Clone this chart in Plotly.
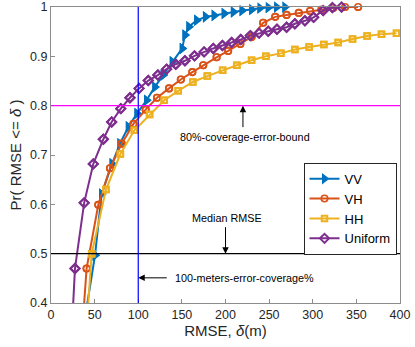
import plotly.graph_objects as go

# RMSE (m) / cumulative probability
vv_x = [38, 50.5, 58, 70, 79, 88.6, 98.5, 109.5, 119, 128.6, 139, 150.4, 153.5, 158, 167, 177, 187,
        198.5, 209, 219, 230, 239.5, 249, 258.5, 268]
vv_y = [0.36, 0.497, 0.621, 0.682, 0.723, 0.757, 0.784, 0.811, 0.838, 0.862, 0.889, 0.916, 0.943,
        0.960, 0.973, 0.980, 0.983, 0.987, 0.990, 0.993, 0.995, 0.998, 0.999, 1.0, 1.0]

vh_x = [36, 40.8, 54.2, 67.6, 81, 94.5, 108.5, 121.5, 135.3, 148.8, 162, 174.5, 189.8, 203, 217,
        229.9, 243.2, 257, 270, 284, 297, 310, 323.4, 337, 352]
vh_y = [0.35, 0.47, 0.599, 0.673, 0.723, 0.763, 0.792, 0.816, 0.835, 0.853, 0.868, 0.882, 0.898,
        0.911, 0.925, 0.939, 0.968, 0.980, 0.984, 0.988, 0.992, 0.995, 0.998, 1.0, 1.0]

hh_x = [38.5, 46.6, 63, 79.5, 95.6, 113, 129.8, 145.8, 162.5, 179.2, 196.7, 213, 229.9, 246.3, 263.5,
        279.5, 295.9, 312.7, 329.1, 345.6, 362.3, 378.8, 396]
hh_y = [0.29, 0.5, 0.63, 0.702, 0.75, 0.782, 0.811, 0.83, 0.848, 0.86, 0.872, 0.882, 0.892, 0.9,
        0.906, 0.914, 0.919, 0.924, 0.928, 0.935, 0.941, 0.945, 0.947]

uni_x = [24, 27.5, 38, 48.5, 60, 69.5, 80, 90.5, 101, 111.5, 122.5, 132.5, 143, 153.5, 164.5, 175.5,
         186, 196.5, 207, 217.5, 228.5, 238.5, 249, 259, 270, 279.5, 291, 301, 312, 322.5, 333]
uni_y = [0.35, 0.47, 0.603, 0.682, 0.732, 0.767, 0.794, 0.816, 0.835, 0.851, 0.862, 0.874, 0.884,
         0.891, 0.901, 0.909, 0.916, 0.922, 0.928, 0.934, 0.942, 0.947, 0.951, 0.955, 0.959, 0.966,
         0.972, 0.979, 0.993, 0.999, 1.0]

coverage_level = 0.8
median_level = 0.5
error_bound = 100

x_ticks = [0, 50, 100, 150, 200, 250, 300, 350, 400]
y_ticks = [0.4, 0.5, 0.6, 0.7, 0.8, 0.9, 1.0]

series = [
    ("VV", vv_x, vv_y, "#0072BD", dict(symbol="triangle-right", size=10)),
    ("VH", vh_x, vh_y, "#D95319", dict(symbol="circle-open", size=6.5, line=dict(width=1.6))),
    ("HH", hh_x, hh_y, "#EDB120", dict(symbol="square-open", size=5.5, line=dict(width=2))),
    ("Uniform", uni_x, uni_y, "#7E2F8E", dict(symbol="diamond-open", size=7, line=dict(width=2))),
]

fig = go.Figure()

# reference lines
fig.add_hline(y=coverage_level, line=dict(color="#ff00ff", width=1.2))
fig.add_hline(y=median_level, line=dict(color="black", width=1.2))
fig.add_vline(x=error_bound, line=dict(color="#0000ff", width=1.2))

for name, xs, ys, col, mk in series:
    mk = dict(mk, color=col)
    fig.add_trace(go.Scatter(x=xs, y=ys, name=name, mode="lines+markers",
                             line=dict(color=col, width=2), marker=mk))
    # markers on the box edge should not be cut in half
    inside = [(a, b) for a, b in zip(xs, ys) if b >= 0.4]
    fig.add_trace(go.Scatter(x=[p[0] for p in inside], y=[p[1] for p in inside], mode="markers",
                             marker=mk, showlegend=False, cliponaxis=False, hoverinfo="skip"))

arrow = dict(showarrow=True, arrowhead=2, arrowsize=1.3, arrowwidth=1, arrowcolor="black", text="")
fig.add_annotation(x=220, y=coverage_level, ax=0, ay=23, **arrow)
fig.add_annotation(x=200, y=median_level, ax=0, ay=-28, **arrow)
fig.add_annotation(x=error_bound, y=0.451, ax=30, ay=0, **arrow)

txt = dict(showarrow=False, font=dict(size=10.8, color="black"))
fig.add_annotation(x=222, y=0.736, text="80%-coverage-error-bound", **txt)
fig.add_annotation(x=201.5, y=0.572, text="Median RMSE", **txt)
fig.add_annotation(x=139.7, y=0.451, xanchor="left", text="100-meters-error-coverage%", **txt)

axis = dict(showgrid=False, zeroline=False, showline=True, mirror=True, linecolor="#8c8c8c",
            linewidth=1, ticks="inside", ticklen=4, tickcolor="#8c8c8c", automargin=False,
            tickfont=dict(size=12.5, color="#262626"))

fig.update_layout(
    width=415, height=347,
    margin=dict(l=51, r=15, t=7, b=44),
    paper_bgcolor="white", plot_bgcolor="white",
    font=dict(family="Liberation Sans, Arial, sans-serif", color="#262626"),
    xaxis=dict(axis, range=[0, 400], tickvals=x_ticks,
               title=dict(text="RMSE, <i>δ</i>(m)", font=dict(size=15), standoff=4)),
    yaxis=dict(axis, range=[0.4, 1], tickvals=y_ticks, ticktext=["0.4", "0.5", "0.6", "0.7", "0.8", "0.9", "1"],
               title=dict(text="Pr( RMSE <= <i>δ</i> )", font=dict(size=15), standoff=4)),
    legend=dict(x=0.99, xanchor="right", y=0.474, yanchor="top", bgcolor="white",
                bordercolor="#262626", borderwidth=1, font=dict(size=13, color="black"),
                tracegroupgap=0, itemwidth=30),
    showlegend=True,
)

# the page body has a default 8px margin; drop it so the figure sits at the window corner
fig.write_html("out.html", config={"displayModeBar": False},
               post_script="document.body.style.margin='0';")
